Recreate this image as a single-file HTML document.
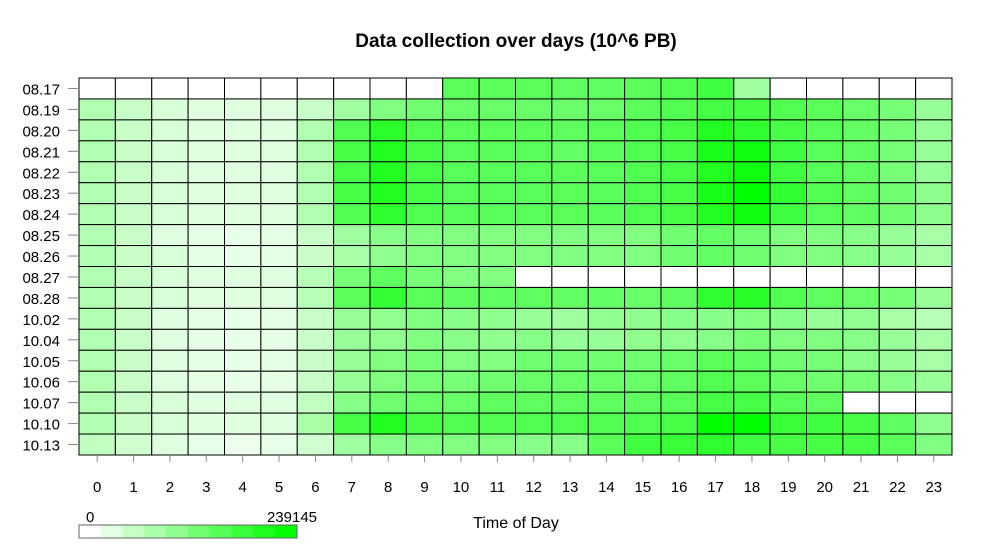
<!DOCTYPE html>
<html><head><meta charset="utf-8"><style>
html,body{margin:0;padding:0;background:#fff;}
svg{display:block;font-family:"Liberation Sans",sans-serif;}
</style></head><body>
<svg id="chart" width="993" height="553">
<text x="516" y="47" text-anchor="middle" font-size="19" font-weight="bold">Data collection over days (10^6 PB)</text>
<text x="516" y="528" text-anchor="middle" font-size="16">Time of Day</text>
<g id="cells"></g><g id="axes"></g><g id="legend"></g>
</svg>
<script>
const days = ["08.17","08.19","08.20","08.21","08.22","08.23","08.24","08.25","08.26","08.27","08.28","10.02","10.04","10.05","10.06","10.07","10.10","10.13"];
const hours = ["0","1","2","3","4","5","6","7","8","9","10","11","12","13","14","15","16","17","18","19","20","21","22","23"];
const maxValue = 239145;
const legendLabels = ["0","239145"];
// values in thousands
const r0817 = [0,0,0,0,0,0,0,0,0,0,155,155,155,150,150,155,164,179,89,0,0,0,0,0];
const r0819 = [74,52,37,29,29,29,52,89,119,134,141,141,141,139,141,155,164,174,174,164,155,141,127,98];
const r0820 = [74,52,37,29,29,29,74,164,200,164,155,155,155,149,155,164,172,209,194,172,157,145,127,98];
const r0821 = [74,52,37,29,29,29,74,172,209,172,157,157,157,145,157,164,172,215,224,179,157,149,127,98];
const r0822 = [74,52,37,29,29,29,74,172,209,172,157,157,157,155,157,164,172,209,224,179,157,149,127,98];
const r0823 = [74,52,37,29,29,29,74,172,209,172,157,157,157,155,157,164,172,217,239,194,164,149,134,108];
const r0824 = [74,52,37,29,29,29,74,164,194,164,157,157,157,155,157,164,172,209,224,179,157,149,134,108];
const r0825 = [74,52,29,25,22,25,52,89,112,119,119,119,119,119,119,119,134,145,134,119,119,112,98,82];
const r0826 = [74,52,37,25,22,25,52,82,104,119,119,119,119,119,119,119,134,145,134,119,119,112,98,82];
const r0827 = [74,52,37,29,29,29,67,127,149,127,119,119,0,0,0,0,0,0,0,0,0,0,0,0];
const r0828 = [74,52,37,29,29,29,67,155,190,155,149,149,149,145,145,142,149,194,202,164,149,142,127,97];
const r1002 = [74,52,29,25,22,25,52,97,104,119,112,104,97,89,104,104,112,112,119,112,97,104,82,67];
const r1004 = [74,52,29,25,22,25,52,97,104,119,112,104,112,98,98,104,104,112,127,119,119,112,97,82];
const r1005 = [74,52,29,25,22,25,52,97,119,127,119,119,134,134,134,134,142,155,149,134,127,112,97,82];
const r1006 = [74,52,29,25,22,25,52,97,119,127,127,134,142,142,142,142,149,164,155,142,134,127,112,97];
const r1007 = [74,52,37,29,29,29,59,112,134,142,142,149,149,149,149,149,157,172,172,157,149,0,0,0];
const r1010 = [74,52,37,29,29,29,82,172,209,172,164,164,164,164,164,164,172,239,239,187,179,172,149,104];
const r1013 = [59,44,29,22,18,22,44,89,112,119,119,119,112,112,155,179,187,194,179,172,172,172,155,119];
const values = [r0817,r0819,r0820,r0821,r0822,r0823,r0824,r0825,r0826,r0827,r0828,r1002,r1004,r1005,r1006,r1007,r1010,r1013];

const NS="http://www.w3.org/2000/svg";
const X0=79,X1=952,Y0=78,Y1=455;
const cw=(X1-X0)/hours.length, ch=(Y1-Y0)/days.length;
const xPos=i=>X0+i*cw, yPos=j=>Y0+j*ch;
function color(v){const t=Math.max(0,Math.min(1,v/maxValue));const c=Math.round(255*(1-t));return `rgb(${c},255,${c})`;}
function mk(tag,attrs,parent){const e=document.createElementNS(NS,tag);for(const k in attrs)e.setAttribute(k,attrs[k]);parent.appendChild(e);return e;}
const cells=document.getElementById('cells'),axes=document.getElementById('axes'),legend=document.getElementById('legend');
values.forEach((row,j)=>row.forEach((v,i)=>{
  const r=mk('rect',{x:xPos(i),y:yPos(j),width:cw,height:ch,fill:color(v*1000),stroke:'#000','stroke-width':1},cells);
  
  
}));
days.forEach((d,j)=>{
  const y=yPos(j)+ch/2;
  const tk=mk('line',{x1:68,x2:X0,y1:y,y2:y,stroke:'#888'},axes);
  
  
  const t=mk('text',{x:60,y:y+6,'text-anchor':'end','font-size':15},axes);
  t.textContent=d;
  
  
});
hours.forEach((h,i)=>{
  const x=xPos(i)+cw/2;
  const tk=mk('line',{x1:x,x2:x,y1:Y1,y2:462,stroke:'#888'},axes);
  
  
  const t=mk('text',{x:x,y:492,'text-anchor':'middle','font-size':15},axes);
  t.textContent=h;
  
  
});
const LX=79,LW=218,LY=525,LH=13,NSEG=10;
for(let k=0;k<NSEG;k++){
  const r=mk('rect',{x:LX+k*LW/NSEG,y:LY,width:LW/NSEG+0.5,height:LH,fill:color(maxValue*k/(NSEG-1))},legend);
  
  
}
const lb=mk('rect',{x:LX,y:LY,width:LW,height:LH,fill:'none',stroke:'#666'},legend);


const l0=mk('text',{x:86,y:522,'font-size':15},legend);l0.textContent=legendLabels[0];


const l1=mk('text',{x:292,y:522,'font-size':15,'text-anchor':'middle'},legend);l1.textContent=legendLabels[1];


</script>
</body></html>
